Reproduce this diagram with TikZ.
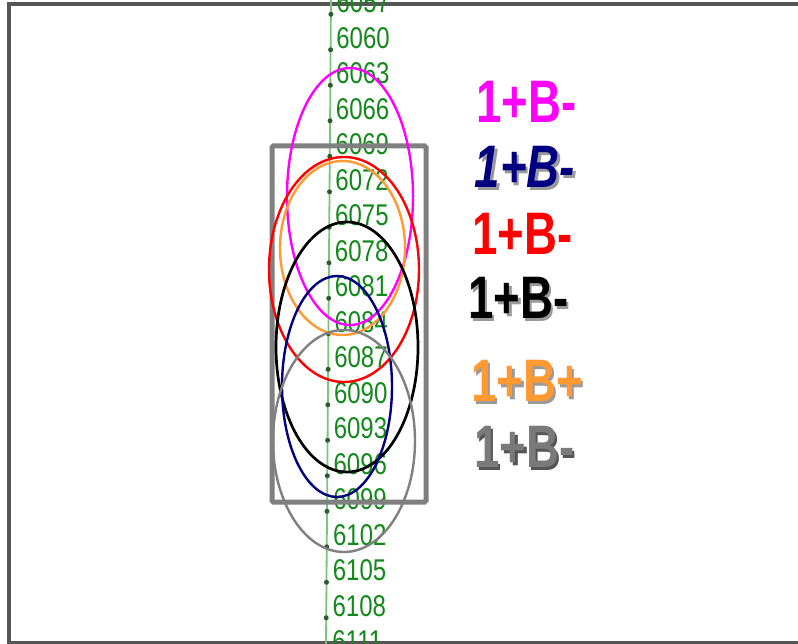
\documentclass[tikz,border=0pt]{standalone}
\usepackage{fontspec}
\setmainfont{Liberation Sans}
\definecolor{framegray}{HTML}{555555}
\definecolor{boxgray}{HTML}{808080}
\definecolor{axisgreen}{HTML}{7CC47C}
\definecolor{labelgreen}{HTML}{12891A}
\definecolor{tickdot}{HTML}{2F5A2F}
\definecolor{pinkM}{HTML}{FF00FF}
\definecolor{redR}{HTML}{FF0000}
\definecolor{navy}{HTML}{000080}
\definecolor{orangeB}{HTML}{FF9A33}
\definecolor{grayB}{HTML}{7A7A7A}
\definecolor{shadowgray}{HTML}{9A9A9A}
\tikzset{
  scalelabel/.style={anchor=base west, inner sep=0pt, text=labelgreen,
    font=\fontsize{30}{30}\selectfont},
  ring/.style={line width=2.4pt},
  tag/.style={anchor=west, inner sep=0pt, font=\fontsize{60}{60}\selectfont\bfseries},
  tagit/.style={anchor=west, inner sep=0pt, font=\fontsize{60}{60}\selectfont\bfseries\itshape}
}
\newcommand{\narrow}[1]{\scalebox{0.8}[1]{#1}}
\newcommand{\tagtext}[1]{\scalebox{0.76}[1]{#1}}
\begin{document}
\begin{tikzpicture}[x=1pt,y=-1pt]
\useasboundingbox (0,0) rectangle (798,644);
\fill[white] (0,0) rectangle (798,644);

% outer frame
\draw[framegray, line width=4pt] (8.5,644) -- (8.5,4) -- (798,4);
\draw[framegray, line width=4pt] (8.5,642.5) -- (798,642.5);

% depth axis with ticks and labels
\coordinate (axtop) at (331,0);
\coordinate (axbot) at (326,644);
\draw[axisgreen, line width=1.8pt] (axtop) -- (axbot);
\foreach \i in {0,...,18}{
  \pgfmathsetmacro{\yb}{12.8+35.5*\i}
  \pgfmathsetmacro{\xl}{336.2-4*(\yb-48)/603}
  \pgfmathsetmacro{\yd}{14.3+35.5*\i}
  \pgfmathsetmacro{\xd}{331-5*\yd/644}
  \pgfmathtruncatemacro{\val}{6057+3*\i}
  \node[scalelabel] (lab\i) at (\xl,\yb) {\narrow{\val}};
  \fill[tickdot] (\xd,\yd) circle (2.5pt);
}

% selection box
\node[draw=boxgray, line width=5pt, rounded corners=1.5pt, minimum width=154pt,
  minimum height=356pt, inner sep=0pt] (selbox) at (349,324) {};

% rings
\draw[ring, pinkM] (350,196.5) ellipse [x radius=63, y radius=128.5];
\draw[ring, orangeB] (342.5,248) ellipse [x radius=62.5, y radius=87];
\draw[ring, redR] (344,269.5) ellipse [x radius=75, y radius=112.5];
\draw[ring, black, line width=2.7pt] (347,347) ellipse [x radius=71, y radius=125];
\draw[ring, navy] (337,386.5) ellipse [x radius=55, y radius=110.5];
\draw[ring, boxgray] (344,441) ellipse [x radius=71, y radius=111];

% legend tags
\node[tag, text=pinkM] (t1) at (476,101.5) {\tagtext{1+B-}};

\node[tagit, text=shadowgray] at (477,169.5) {\tagtext{1+B-}};
\node[tagit, text=navy] (t2) at (474.5,167) {\tagtext{1+B-}};

\node[tag, text=redR] (t3) at (472,233.5) {\tagtext{1+B-}};

\node[tag, text=shadowgray] at (470.5,300.5) {\tagtext{1+B-}};
\node[tag, text=black] (t4) at (468,298) {\tagtext{1+B-}};

\node[tag, text=shadowgray] at (473.5,383.5) {\tagtext{1+B+}};
\node[tag, text=orangeB] (t5) at (471,381) {\tagtext{1+B+}};

\node[tag, text=framegray] at (476.5,449.5) {\tagtext{1+B-}};
\node[tag, text=grayB] (t6) at (474,447) {\tagtext{1+B-}};
\end{tikzpicture}
\end{document}
